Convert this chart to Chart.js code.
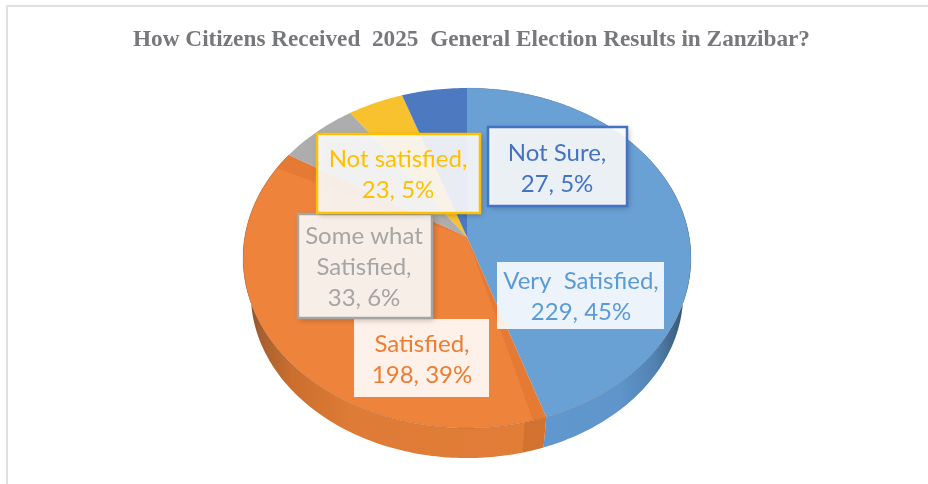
<!DOCTYPE html>
<html><head><meta charset="utf-8">
<style>html,body{margin:0;padding:0;background:#fff}#w{position:relative;width:928px;height:484px}canvas{display:block}</style>
<script src="https://cdn.jsdelivr.net/npm/chart.js@4"></script>
</head><body><div id="w"><canvas id="c" width="928" height="484"></canvas></div>
<script>
const chartTitle = "How Citizens Received  2025  General Election Results in Zanzibar?";
const categories = ["Very  Satisfied", "Satisfied", "Some what Satisfied", "Not satisfied", "Not Sure"];
const values = [229, 198, 33, 23, 27];
const percents = [45, 39, 6, 5, 5];
const faceColors = ["#6AA1D5", "#EE833B", "#ADADAD", "#F8C12E", "#4C79C0"];
const textColors = ["#5B9BD5", "#ED7D31", "#A5A5A5", "#FFC000", "#4472C4"];
const boxFills = ["rgba(255,255,255,0.87)", "rgba(255,255,255,0.89)", "rgba(255,255,255,0.89)", "rgba(255,255,255,0.89)", "rgba(255,255,255,0.89)"];
const labelLines = [
  [categories[0] + ","],
  [categories[1] + ","],
  ["Some what", "Satisfied,"],
  [categories[3] + ","],
  [categories[4] + ","]
];
// box: x, y, w, h, text centre x, first text centre y, bordered
const boxes = [
  [497, 262, 167, 67, 581, 281, false],
  [354, 319, 135, 78, 422, 344, false],
  [298, 214, 134, 104, 364, 236, true],
  [317, 134, 163, 79, 398, 159, true],
  [488, 127, 139, 79, 557, 153, true]
];
const drawOrder = [0, 1, 2, 3, 4];
const SQUASH = 0.759, PERSP = 0.1235, WIDE = 0.9923, BOTTOM_SCALE = 0.965, BOTTOM_DROP = 36;

function proj(a, t, k) {
  const x = Math.cos(t), y = Math.sin(t), R = a.outerRadius * (k || 1), den = 1 - PERSP * y;
  return [a.x + R * WIDE * x / den, a.y + R * SQUASH * (y - PERSP) / den];
}
function bottomPt(a, t) {
  const p = proj(a, t);
  return [a.x + (p[0] - a.x) * BOTTOM_SCALE, a.y + BOTTOM_DROP + (p[1] - a.y) * BOTTOM_SCALE];
}
function sector(ctx, a, s, e) {
  const apex = [a.x, a.y - a.outerRadius * SQUASH * PERSP];
  ctx.beginPath(); ctx.moveTo(apex[0], apex[1]);
  const n = Math.max(2, Math.ceil((e - s) * 60));
  for (let i = 0; i <= n; i++) { const p = proj(a, s + (e - s) * i / n); ctx.lineTo(p[0], p[1]); }
  ctx.closePath();
}
function side(ctx, a, s, e) {
  const n = Math.max(2, Math.ceil((e - s) * 60));
  ctx.beginPath();
  for (let i = 0; i <= n; i++) { const p = proj(a, s + (e - s) * i / n); i ? ctx.lineTo(p[0], p[1]) : ctx.moveTo(p[0], p[1]); }
  for (let i = n; i >= 0; i--) { const p = bottomPt(a, s + (e - s) * i / n); ctx.lineTo(p[0], p[1]); }
  ctx.closePath();
}
const pie3d = {
  id: "pie3d",
  beforeDatasetDraw(chart, args) {
    const ctx = chart.ctx, arcs = args.meta.data;
    ctx.save();
    const a0 = arcs[0], L = a0.x - a0.outerRadius, W = 2 * a0.outerRadius;
    const gB = ctx.createLinearGradient(L, 0, L + W, 0);
    gB.addColorStop(0.67, "#5F98CF"); gB.addColorStop(0.84, "#5F95CA"); gB.addColorStop(0.92, "#5282B2"); gB.addColorStop(0.985, "#36556F");
    const gO = ctx.createLinearGradient(L, 0, L + W, 0);
    gO.addColorStop(0.01, "#7E5030"); gO.addColorStop(0.04, "#A8602E"); gO.addColorStop(0.11, "#CB6F2E"); gO.addColorStop(0.24, "#DE7B36"); gO.addColorStop(1, "#E47F39");
    [[0, gB], [1, gO]].forEach(([i, g]) => {
      side(ctx, arcs[i], arcs[i].startAngle, arcs[i].endAngle);
      ctx.fillStyle = g; ctx.fill();
    });
    const o = arcs[1];
    side(ctx, o, o.startAngle, o.startAngle + 0.09);
    ctx.fillStyle = "rgba(170,80,20,0.25)"; ctx.fill();
    arcs.forEach((a, i) => {
      sector(ctx, a, a.startAngle, a.endAngle);
      ctx.fillStyle = faceColors[i]; ctx.fill();
    });
    ctx.fillStyle = "rgba(190,90,20,0.2)";
    sector(ctx, o, o.startAngle, o.startAngle + 0.055); ctx.fill();
    sector(ctx, o, o.endAngle - 0.1, o.endAngle); ctx.fill();
    // thin rim line between the top face and the side wall
    ctx.lineWidth = 1;
    [0, 1].forEach(i => {
      const a = arcs[i];
      ctx.beginPath();
      const n = 60;
      for (let k = 0; k <= n; k++) {
        const p = proj(a, a.startAngle + (a.endAngle - a.startAngle) * k / n);
        k ? ctx.lineTo(p[0], p[1]) : ctx.moveTo(p[0], p[1]);
      }
      ctx.strokeStyle = "rgba(80,50,40,0.14)"; ctx.stroke();
    });
    ctx.restore();
    return false;
  },
  afterDatasetsDraw(chart) {
    const ctx = chart.ctx;
    ctx.save();
    ctx.textAlign = "center"; ctx.textBaseline = "middle";
    drawOrder.forEach(i => {
      const [x, y, w, h, cx, cy, bordered] = boxes[i];
      ctx.save();
      if (bordered) { ctx.shadowColor = "rgba(0,0,0,0.28)"; ctx.shadowBlur = 6; ctx.shadowOffsetX = 2; ctx.shadowOffsetY = 2; }
      ctx.fillStyle = boxFills[i];
      ctx.fillRect(x, y, w, h);
      ctx.restore();
      if (bordered) { ctx.strokeStyle = textColors[i]; ctx.lineWidth = 2.5; ctx.strokeRect(x, y, w, h); }
      ctx.fillStyle = textColors[i];
      ctx.font = "24px Lato, 'Open Sans', sans-serif";
      const lines = labelLines[i].concat([values[i] + ", " + percents[i] + "%"]);
      lines.forEach((t, k) => ctx.fillText(t, cx, cy + k * 31));
    });
    // title
    ctx.font = "bold 23px 'Liberation Serif', serif";
    ctx.fillStyle = "#77787C";
    const tw = ctx.measureText(chartTitle).width;
    ctx.translate(471.5, 40);
    ctx.scale(677 / tw, 1);
    ctx.fillText(chartTitle, 0, 0);
    ctx.restore();
  }
};
const frame = {
  id: "frame",
  beforeDraw(chart) {
    const ctx = chart.ctx;
    ctx.save();
    ctx.fillStyle = "#fff"; ctx.fillRect(0, 0, chart.width, chart.height);
    ctx.fillStyle = "#E0E0E0";
    ctx.fillRect(6, 5, chart.width - 6, 2);
    ctx.fillRect(6, 5, 2, chart.height - 5);
    ctx.restore();
  }
};
new Chart(document.getElementById("c"), {
  type: "pie",
  data: { labels: categories, datasets: [{ data: values, backgroundColor: faceColors, borderWidth: 0 }] },
  options: {
    responsive: false, animation: false,
    layout: { padding: { left: 243, right: 237, top: 34, bottom: 2 } },
    plugins: { legend: { display: false }, tooltip: { enabled: false }, title: { display: false } }
  },
  plugins: [frame, pie3d]
});
</script></body></html>
